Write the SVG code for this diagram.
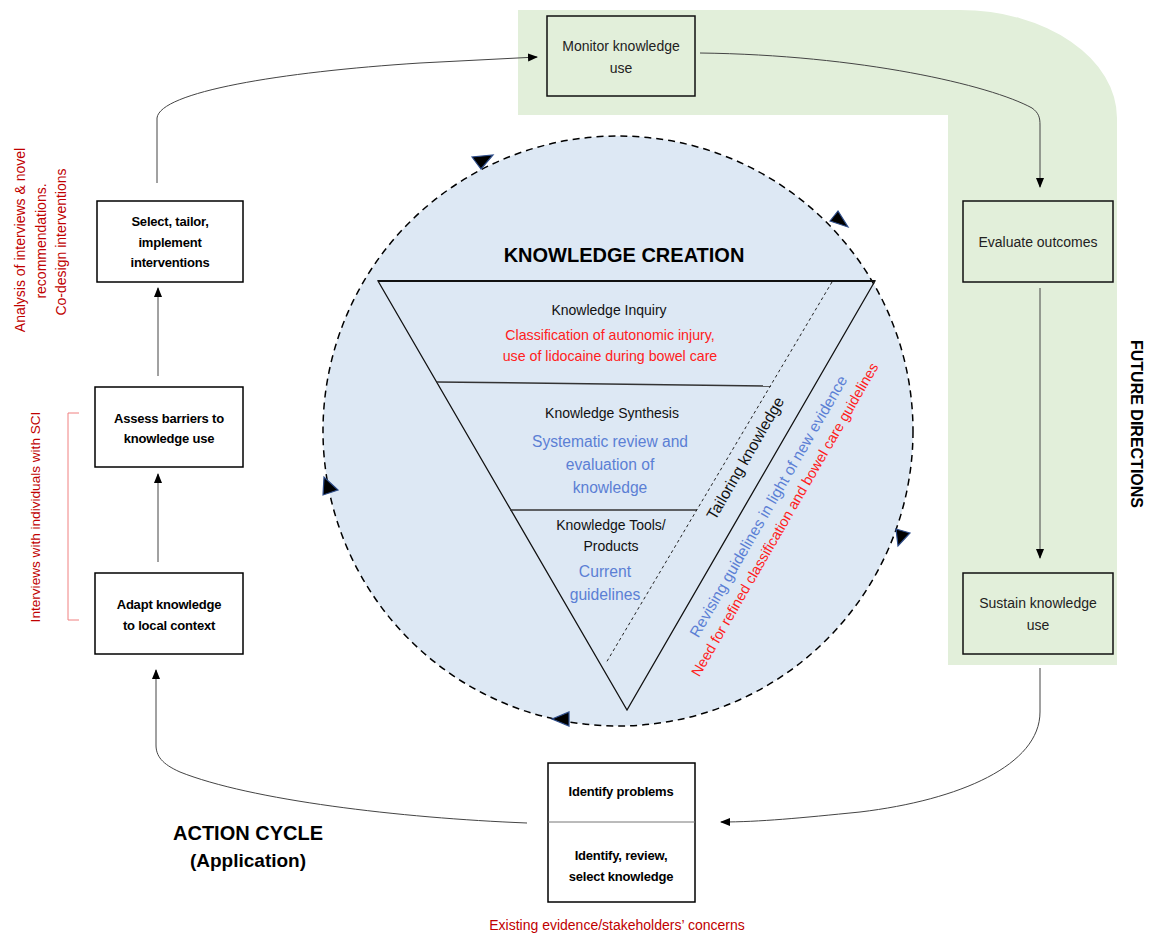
<svg xmlns="http://www.w3.org/2000/svg" width="1151" height="937" viewBox="0 0 1151 937">
<style>
text{font-family:"Liberation Sans",Arial,sans-serif}
.box{fill:#fff;stroke:#000;stroke-width:1.5}
.gbox{fill:#e2efda;stroke:#111;stroke-width:1.5}
.bt{font-size:13px;fill:#000;text-anchor:middle;font-weight:bold;letter-spacing:-0.2px}
.gt{font-size:14px;fill:#222;text-anchor:middle}
.con{fill:none;stroke:#444;stroke-width:1}
.side{fill:#c00000;text-anchor:middle}
.head{font-weight:bold;fill:#000;text-anchor:middle}
.k{fill:#111;text-anchor:middle}
.red{fill:#ff2020}
.blue{fill:#5b7fd4}
.ca{fill:#000;stroke:#2e4d8a;stroke-width:1.2}
</style>
<defs>
<marker id="ah" markerWidth="10" markerHeight="10" refX="9" refY="5" orient="auto" markerUnits="userSpaceOnUse"><path d="M0,1 L10,5 L0,9 z" fill="#000"/></marker>
</defs>

<g id="future-band">
<path d="M518,10 H960 A157,108 0 0 1 1117,118 V665 H948 V115 H518 Z" fill="#e2efda"/>
<text class="head" font-size="16" transform="translate(1131,424) rotate(90)">FUTURE DIRECTIONS</text>
</g>

<g id="knowledge-creation">
<circle cx="618" cy="431" r="295" fill="#dde8f4" stroke="#000" stroke-width="1.5" stroke-dasharray="7 5"/>
<polygon class="ca" points="472,157 481,169 493,155"/>
<polygon class="ca" points="830,221 838,211 848,227"/>
<polygon class="ca" points="896,529 910,533 898,546"/>
<polygon class="ca" points="552,719 569,712 569,726"/>
<polygon class="ca" points="324,477 323,495 338,490"/>
<text class="head" font-size="20" x="624" y="262">KNOWLEDGE CREATION</text>
<path d="M378,281 L627,710 L875,281 Z" fill="none" stroke="#111" stroke-width="1.3"/>
<line x1="378" y1="281" x2="875" y2="281" stroke="#111" stroke-width="2"/>
<line x1="437" y1="382" x2="771" y2="386" stroke="#333" stroke-width="1.5"/>
<line x1="510" y1="510" x2="697" y2="510" stroke="#333" stroke-width="1.3"/>
<line x1="832" y1="282" x2="606" y2="663" stroke="#222" stroke-width="1" stroke-dasharray="3 3"/>
<text class="k" font-size="14" x="609" y="315">Knowledge Inquiry</text>
<text class="k red" font-size="14.2" x="610" y="340">Classification of autonomic injury,</text>
<text class="k red" font-size="14.2" x="610" y="361">use of lidocaine during bowel care</text>
<text class="k" font-size="14" x="612" y="418">Knowledge Synthesis</text>
<text class="k blue" font-size="15.6" x="610" y="447">Systematic review and</text>
<text class="k blue" font-size="15.6" x="610" y="470">evaluation of</text>
<text class="k blue" font-size="15.6" x="610" y="493">knowledge</text>
<text class="k" font-size="14" x="611" y="530">Knowledge Tools/</text>
<text class="k" font-size="14" x="611" y="551">Products</text>
<text class="k blue" font-size="15.7" x="605" y="577">Current</text>
<text class="k blue" font-size="15.7" x="605" y="600">guidelines</text>
<text class="k" font-size="15.8" transform="translate(750,461) rotate(-60)">Tailoring knowledge</text>
<text class="k blue" font-size="15.5" transform="translate(773,509) rotate(-60)">Revising guidelines in light of new evidence</text>
<text class="k red" font-size="14.4" transform="translate(789,522) rotate(-60)">Need for refined classification and bowel care guidelines</text>
</g>

<g id="connectors">
<path class="con" d="M157,183 V118 C160,92 280,72 420,63 L537,57" marker-end="url(#ah)"/>
<path class="con" d="M700,53 C860,55 990,85 1032,108 C1039,113 1040,118 1040,125 V187" marker-end="url(#ah)"/>
<path class="con" d="M1040,288 V558" marker-end="url(#ah)"/>
<path class="con" d="M1040,668 V712 C1040,765 960,800 860,812 C800,818 760,822 721,822" marker-end="url(#ah)"/>
<path class="con" d="M527,823 C400,818 250,800 180,772 C162,764 156,756 156,745 V670" marker-end="url(#ah)"/>
<path class="con" d="M158,562 V474" marker-end="url(#ah)"/>
<path class="con" d="M158,376 V288" marker-end="url(#ah)"/>
</g>

<g id="monitor">
<rect class="gbox" x="547" y="16" width="148" height="80"/>
<text class="gt" x="621" y="51">Monitor knowledge</text>
<text class="gt" x="621" y="73">use</text>
</g>
<g id="evaluate">
<rect class="gbox" x="963" y="201" width="150" height="81"/>
<text class="gt" x="1038" y="247">Evaluate outcomes</text>
</g>
<g id="sustain">
<rect class="gbox" x="963" y="573" width="150" height="81"/>
<text class="gt" x="1038" y="608">Sustain knowledge</text>
<text class="gt" x="1038" y="630">use</text>
</g>
<g id="identify">
<rect class="box" x="548" y="763" width="147" height="139"/>
<line x1="548" y1="822" x2="695" y2="822" stroke="#777" stroke-width="1"/>
<text class="bt" x="621" y="796">Identify problems</text>
<text class="bt" x="621" y="860">Identify, review,</text>
<text class="bt" x="621" y="881">select knowledge</text>
</g>
<g id="adapt">
<rect class="box" x="95" y="573" width="148" height="81"/>
<text class="bt" x="169" y="609">Adapt knowledge</text>
<text class="bt" x="169" y="630">to local context</text>
</g>
<g id="assess">
<rect class="box" x="95" y="387" width="148" height="80"/>
<text class="bt" x="169" y="423">Assess barriers to</text>
<text class="bt" x="169" y="443">knowledge use</text>
</g>
<g id="select">
<rect class="box" x="97" y="201" width="146" height="81"/>
<text class="bt" x="170" y="226">Select, tailor,</text>
<text class="bt" x="170" y="247">implement</text>
<text class="bt" x="170" y="267">interventions</text>
</g>

<g id="annotations">
<text class="side" font-size="14" transform="translate(25,240) rotate(-90)">Analysis of interviews &amp; novel</text>
<text class="side" font-size="14" transform="translate(46,241) rotate(-90)">recommendations.</text>
<text class="side" font-size="14" transform="translate(66,242) rotate(-90)">Co-design interventions</text>
<text class="side" font-size="13.6" transform="translate(40,517) rotate(-90)">Interviews with individuals with SCI</text>
<path d="M79,413 H68 V620 H79" fill="none" stroke="#f08080" stroke-width="1"/>
<text class="head" font-size="20" x="248" y="840">ACTION CYCLE</text>
<text class="head" font-size="19" x="248" y="867">(Application)</text>
<text class="side" font-size="14" x="617" y="930">Existing evidence/stakeholders’ concerns</text>
</g>
</svg>
